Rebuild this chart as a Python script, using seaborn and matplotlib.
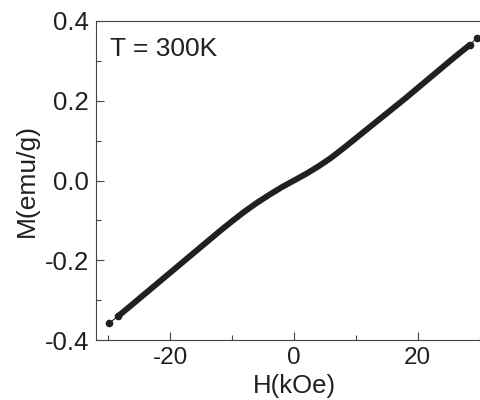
import matplotlib
matplotlib.use("Agg")
import matplotlib.pyplot as plt
import seaborn as sns
import pandas as pd
from matplotlib.ticker import MultipleLocator, FormatStrFormatter

# Data (H in kOe, M in emu/g)
H_sweep = [-28.4, -26, -24, -22, -20, -18, -16, -14, -12, -10, -8, -6, -4, -2, 0,
           2, 4, 6, 8, 10, 12, 14, 16, 18, 20, 22, 24, 26, 28.4]
M_sweep = [-0.340, -0.309, -0.283, -0.257, -0.231, -0.205, -0.179, -0.153, -0.127,
           -0.102, -0.078, -0.056, -0.036, -0.017, 0.000, 0.017, 0.036, 0.057, 0.081,
           0.106, 0.131, 0.156, 0.181, 0.206, 0.232, 0.258, 0.284, 0.310, 0.340]
H_end = [-29.9, -28.4, 28.4, 29.6]
M_end = [-0.358, -0.340, 0.340, 0.358]
annotation = "T = 300K"
x_label = "H(kOe)"
y_label = "M(emu/g)"

sns.set_style("ticks")
plt.rcParams['font.family'] = ['Liberation Sans', 'DejaVu Sans']
plt.rcParams['axes.unicode_minus'] = False

ink = '#231f20'
fig = plt.figure(figsize=(4.81, 4.00), dpi=100)
ax = fig.add_axes([96/481, 60/400, (492-96)/481, (340-21)/400])

df = pd.DataFrame({"H": H_sweep, "M": M_sweep})
sns.lineplot(data=df, x="H", y="M", ax=ax, color=ink, lw=4.3, sort=False,
             solid_capstyle='round', solid_joinstyle='round')
df_end = pd.DataFrame({"H": H_end, "M": M_end})
sns.lineplot(data=df_end.iloc[:2], x="H", y="M", ax=ax, color=ink, lw=0.8,
             marker='o', markersize=5.5, markeredgewidth=0, sort=False)
sns.lineplot(data=df_end.iloc[2:], x="H", y="M", ax=ax, color=ink, lw=0.8,
             marker='o', markersize=5.5, markeredgewidth=0, sort=False)

ax.set_xlim(-32, 32)
ax.set_ylim(-0.4, 0.4)
ax.xaxis.set_major_locator(MultipleLocator(20))
ax.xaxis.set_minor_locator(MultipleLocator(10))
ax.yaxis.set_major_locator(MultipleLocator(0.2))
ax.yaxis.set_minor_locator(MultipleLocator(0.1))
ax.yaxis.set_major_formatter(FormatStrFormatter('%.1f'))

for s in ax.spines.values():
    s.set_color('#444444')
    s.set_linewidth(0.8)
ax.tick_params(which='both', direction='in', color='#444444', width=0.8,
               labelcolor=ink, top=False, right=False)
ax.tick_params(which='major', length=5.5)
ax.tick_params(which='minor', length=3.5)
ax.tick_params(axis='x', which='major', pad=5, labelsize=17.5)
ax.tick_params(axis='y', which='major', pad=5, labelsize=18.5)

ax.set_xlabel(x_label, fontsize=18.5, color=ink, labelpad=4)
ax.set_ylabel(y_label, fontsize=19, color=ink, labelpad=4)
ax.text(0.036, 0.95, annotation, transform=ax.transAxes,
        fontsize=19, color=ink, va='top', ha='left')

fig.savefig("out.png", dpi=100)
